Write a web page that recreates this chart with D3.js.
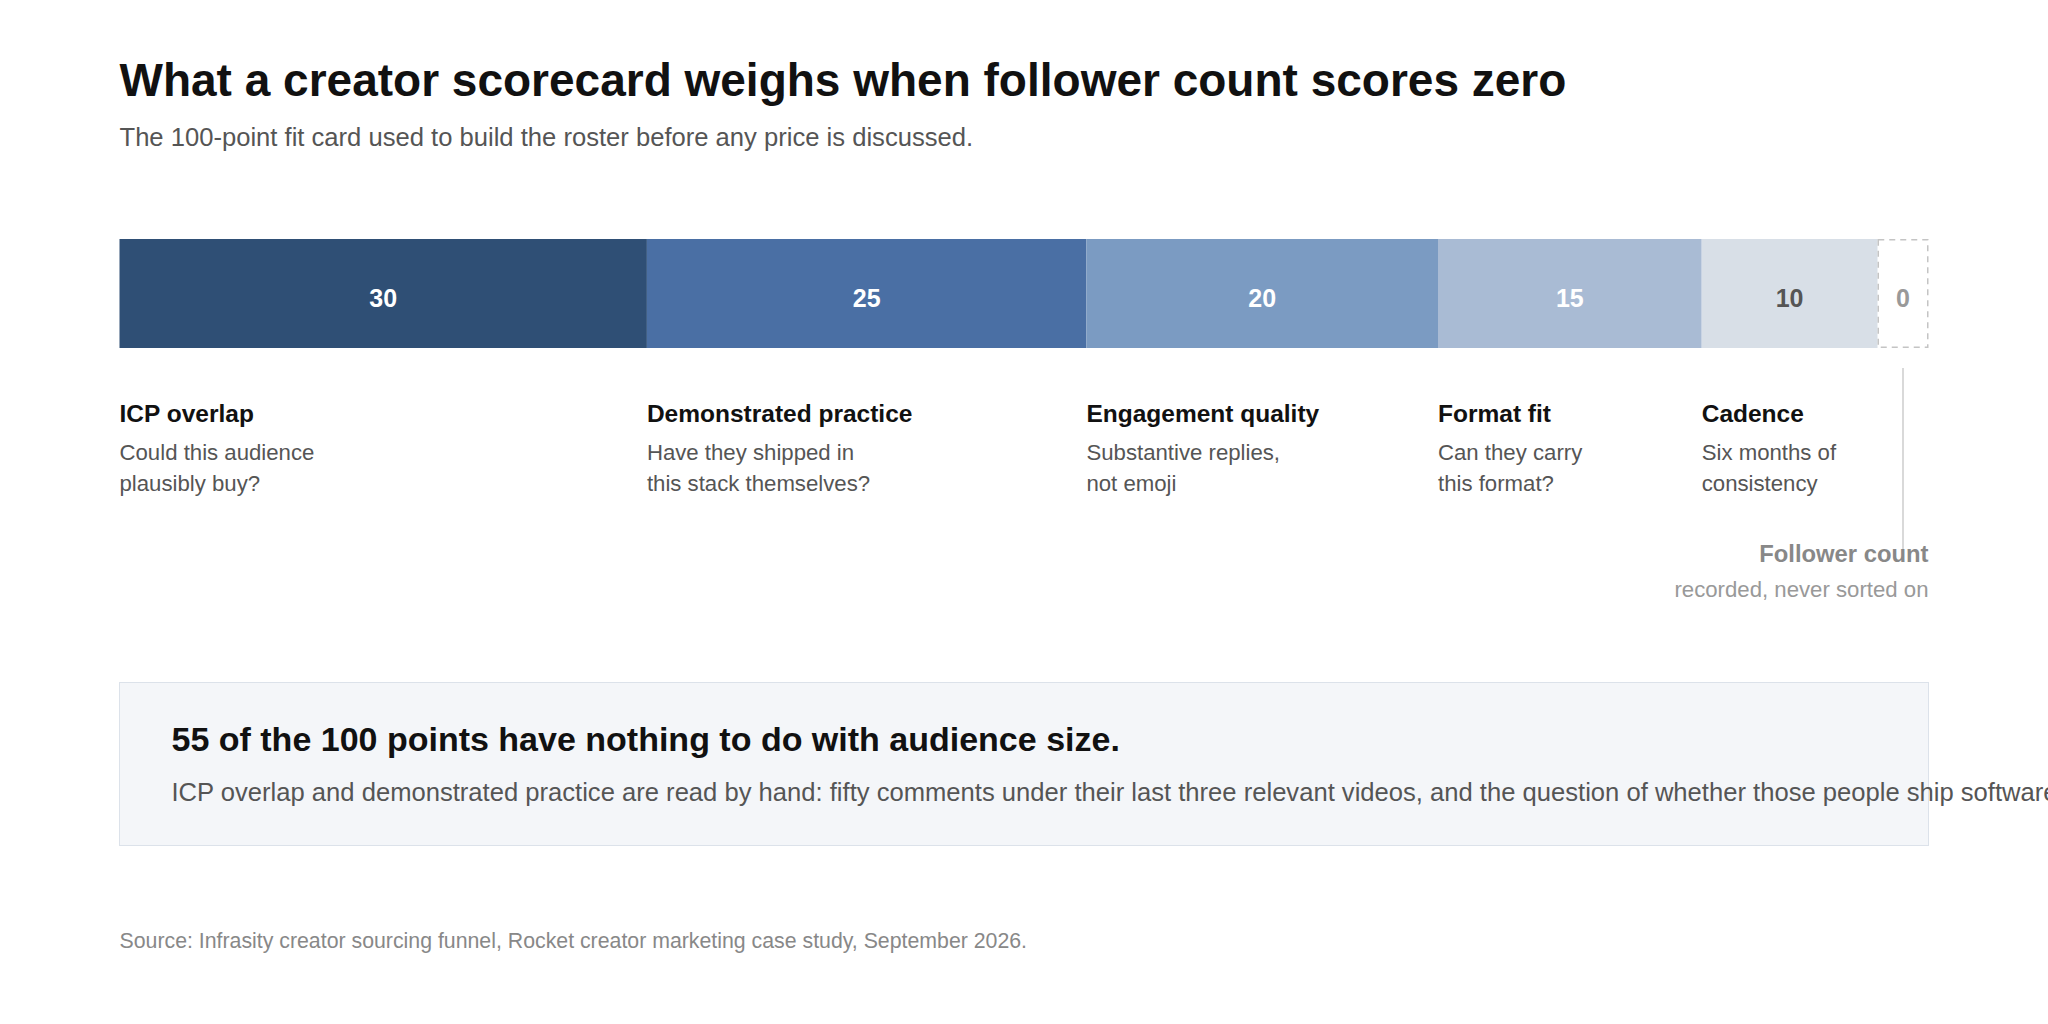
<!DOCTYPE html>
<html><head><meta charset="utf-8">
<script src="https://cdn.jsdelivr.net/npm/d3@7/dist/d3.min.js"></script>
<style>
html,body{margin:0;padding:0;background:#fff;overflow:hidden;}
svg{display:block;font-family:"Liberation Sans",Arial,Helvetica,sans-serif;}
</style></head>
<body>
<svg id="chart" width="2048" height="1024"></svg>
<script>
const categories = ["ICP overlap","Demonstrated practice","Engagement quality","Format fit","Cadence"];
const points = [30,25,20,15,10];
const descriptions = [
  ["Could this audience","plausibly buy?"],
  ["Have they shipped in","this stack themselves?"],
  ["Substantive replies,","not emoji"],
  ["Can they carry","this format?"],
  ["Six months of","consistency"]
];
const colors = ["#2f4f75","#4a6fa4","#7b9bc2","#a9bbd4","#d8dfe7"];
const labelColors = ["#ffffff","#ffffff","#ffffff","#ffffff","#555555"];
const zeroCategory = "Follower count";
const zeroNote = "recorded, never sorted on";
const zeroValue = 0;
const title = "What a creator scorecard weighs when follower count scores zero";
const subtitle = "The 100-point fit card used to build the roster before any price is discussed.";
const calloutHead = "55 of the 100 points have nothing to do with audience size.";
const calloutBody = "ICP overlap and demonstrated practice are read by hand: fifty comments under their last three relevant videos, and the question of whether those people ship software.";
const source = "Source: Infrasity creator sourcing funnel, Rocket creator marketing case study, September 2026.";

const svg = d3.select("#chart");
const L = 119.5, R = 1928.5, zeroW = 51;
const x = d3.scaleLinear().domain([0, d3.sum(points)]).range([L, R - zeroW]);
const barTop = 239, barH = 109;

svg.append("text").attr("x", L).attr("y", 96).attr("font-size", 46).attr("font-weight", 700).attr("fill", "#111").text(title);
svg.append("text").attr("x", L).attr("y", 146).attr("font-size", 25.6).attr("fill", "#555").text(subtitle);

const starts = d3.cumsum([0, ...points]).slice(0, points.length);
const data = points.map((v, i) => ({v, i, s: starts[i], cat: categories[i], desc: descriptions[i]}));

const g = svg.append("g");
g.selectAll("rect.seg").data(data).join("rect").attr("class", "seg")
  .attr("x", d => x(d.s)).attr("y", barTop)
  .attr("width", d => x(d.s + d.v) - x(d.s)).attr("height", barH)
  .attr("fill", (d) => colors[d.i]);
g.selectAll("text.val").data(data).join("text").attr("class", "val")
  .attr("x", d => x(d.s + d.v / 2)).attr("y", barTop + barH / 2 + 13)
  .attr("text-anchor", "middle").attr("font-size", 25).attr("font-weight", 700)
  .attr("fill", d => labelColors[d.i]).text(d => d.v);

// zero slot
const zx = x(d3.sum(points));
g.append("rect").attr("x", zx + 0.75).attr("y", barTop + 0.75).attr("width", zeroW - 1.5).attr("height", barH - 1.5)
  .attr("fill", "#fff").attr("stroke", "#c4c4c4").attr("stroke-width", 1.5).attr("stroke-dasharray", "6,5");
g.append("text").attr("x", zx + zeroW / 2).attr("y", barTop + barH / 2 + 13).attr("text-anchor", "middle")
  .attr("font-size", 25).attr("font-weight", 700).attr("fill", "#999").text(zeroValue);
g.append("line").attr("x1", zx + zeroW / 2).attr("x2", zx + zeroW / 2).attr("y1", 368).attr("y2", 552)
  .attr("stroke", "#cccccc").attr("stroke-width", 1.5);
g.append("text").attr("x", R).attr("y", 562).attr("text-anchor", "end").attr("font-size", 23.8).attr("font-weight", 700).attr("fill", "#888").text(zeroCategory);
g.append("text").attr("x", R).attr("y", 597).attr("text-anchor", "end").attr("font-size", 22.2).attr("fill", "#999").text(zeroNote);

// category labels
const lab = g.selectAll("g.lab").data(data).join("g").attr("class", "lab").attr("transform", d => `translate(${x(d.s)},0)`);
lab.append("text").attr("y", 422).attr("font-size", 24.5).attr("font-weight", 700).attr("fill", "#111").text(d => d.cat);
lab.each(function(d) {
  d3.select(this).selectAll("text.desc").data(d.desc).join("text").attr("class", "desc")
    .attr("y", (t, j) => 460 + j * 31).attr("font-size", 22.2).attr("fill", "#555").text(t => t);
});

// callout
svg.append("rect").attr("x", L).attr("y", 682.5).attr("width", R - L).attr("height", 163)
  .attr("fill", "#f4f6f9").attr("stroke", "#dce2ea").attr("stroke-width", 1);
svg.append("text").attr("x", 171.5).attr("y", 751).attr("font-size", 34).attr("font-weight", 700).attr("fill", "#111").text(calloutHead);
svg.append("text").attr("x", 171.5).attr("y", 801).attr("font-size", 25.6).attr("fill", "#555").text(calloutBody);

svg.append("text").attr("x", L).attr("y", 948).attr("font-size", 21.3).attr("fill", "#888").text(source);
</script>
</body></html>
